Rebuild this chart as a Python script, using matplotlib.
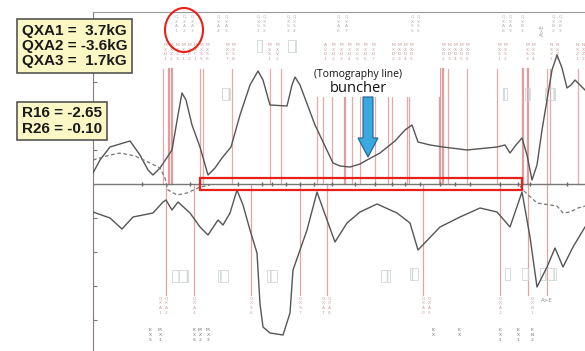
import matplotlib.pyplot as plt
import numpy as np
from matplotlib.patches import Rectangle, Ellipse, FancyArrow

# beam position s [m] and optics functions
s_upper = [0, 0.7, 1.7, 2.7, 3.7, 4.7, 5.5, 6.0, 6.7, 7.9, 8.5, 8.9, 9.3, 9.9, 10.7,
           11.5, 12.2, 12.9, 13.8, 14.7, 15.7, 16.5, 17.0, 17.7, 19.4, 19.9, 20.2, 20.7,
           22.2, 24.0, 24.7, 25.7, 26.7, 27.4, 28.7, 30.2, 31.2, 31.9, 32.5, 33.7, 35.0,
           37.4, 40.4, 41.2, 41.7, 42.3, 42.9, 43.4, 43.9, 44.4, 44.9, 45.4, 45.9, 46.4,
           46.9, 47.4, 47.8, 48.2, 48.7, 49.2]
beta_upper = [1.1, 2.4, 3.7, 4.0, 4.3, 2.9, 1.4, 0.9, 1.6, 3.4, 6.9, 9.1, 8.4, 5.9, 3.7,
              0.9, 1.6, 2.6, 3.7, 6.9, 9.9, 11.3, 10.4, 7.9, 7.8, 9.9, 10.7, 9.9,
              5.9, 2.1, 1.8, 1.7, 2.0, 2.4, 3.1, 4.3, 5.4, 5.9, 4.2, 3.9, 3.7,
              3.4, 3.7, 3.9, 3.1, 3.9, 4.6, 2.9, 0.4, 1.9, 5.4, 8.4, 11.4, 12.9,
              11.6, 9.6, 9.9, 10.4, 9.9, 9.4]

s_lower = [0, 1.7, 2.9, 4.0, 6.0, 7.0, 7.3, 7.9, 8.5, 9.7, 10.7, 11.5, 12.5, 13.0, 13.7,
           14.4, 15.0, 15.7, 16.4, 16.7, 17.0, 17.7, 19.0, 19.7, 20.0, 21.4, 22.4, 23.4,
           24.2, 25.4, 26.7, 28.4, 30.4, 31.7, 32.5, 34.7, 36.7, 38.7, 40.4, 41.7, 42.9,
           43.7, 44.4, 45.4, 46.2, 47.0, 48.0, 49.2]
beta_lower = [-2.8, -3.4, -4.5, -3.3, -2.9, -1.8, -1.6, -2.6, -1.8, -2.9, -4.3, -5.1, -3.6, -4.1, -2.9,
              -0.6, -2.1, -4.6, -6.9, -12.0, -14.3, -14.9, -15.1, -12.9, -8.6, -4.6, -0.8, -3.6,
              -5.8, -3.9, -2.8, -2.0, -2.9, -3.9, -6.6, -4.3, -3.3, -2.4, -2.8, -4.3, -0.8,
              -5.3, -10.3, -8.3, -6.4, -8.3, -6.3, -4.3]

s_disp_a = [0, 1.7, 2.7, 4.2, 5.7, 6.7, 7.2, 7.5, 8.4, 9.4, 10.7, 11.7]
disp_a = [2.4, 2.9, 3.1, 2.8, 2.1, 1.6, 0.6, -0.6, -1.1, -0.9, -0.3, -0.1]
s_disp_b = [42.7, 43.2, 44.4, 45.7, 46.4, 47.0, 47.7, 48.5, 49.2]
disp_b = [-0.2, -0.8, -1.9, -2.1, -2.2, -2.9, -2.8, -2.4, -2.2]

# element positions
upper_elems = [7.0, 10.7, 11.0, 13.9, 17.7, 18.8, 22.4, 23.0, 23.9, 25.9, 26.7, 28.2,
               29.5, 29.9, 31.4, 31.6, 35.5, 37.4, 40.4, 45.4, 45.7, 48.5]
upper_thick = [7.6, 7.9, 25.2, 34.7, 35.0, 43.0, 43.5]
lower_elems = [7.3, 10.1, 15.8, 20.7, 23.4, 33.0, 40.7, 43.5, 45.4]
axis_ticks = [4.9, 9.7, 14.5, 16.9, 17.9, 19.3, 20.7, 22.1, 23.9, 26.2, 28.2, 29.9,
              31.2, 32.7, 34.7, 36.2, 37.7, 40.7, 42.5, 43.7, 47.4]

# beam diagnostics (BPM / profile monitors) drawn as small boxes: (s, width, y)
monitors = [(12.9, 0.8, 9.6), (16.4, 0.5, 14.4), (19.5, 0.8, 14.4), (41.0, 0.4, 9.6),
            (43.2, 0.5, 9.6), (45.2, 1.0, 9.6),
            (7.9, 1.6, -8.6), (12.5, 1.0, -8.6), (17.4, 1.0, -8.6), (28.8, 0.9, -8.6),
            (31.7, 0.8, -8.4), (41.2, 0.5, -8.4), (42.9, 0.6, -8.4), (44.7, 1.6, -8.4)]

top_names = [(8.3, 'QXA1'), (9.1, 'QXA2'), (9.9, 'QXA3'), (12.5, 'QXA4'), (13.3, 'QXA5'),
             (16.5, 'QXS1'), (17.1, 'QXS2'), (19.5, 'QXS3'), (20.1, 'QXS4'),
             (24.5, 'QXA6'), (25.3, 'QXA7'), (31.9, 'QXS5'), (32.5, 'QXS6'),
             (41.0, 'QXA8'), (41.7, 'QXA9'), (42.9, 'QXB1'), (46.0, 'QXB2'), (46.7, 'QXB3')]
mag_names = [(7.2, 'MXD1'), (7.8, 'MXZ2'), (8.4, 'MXZ3'), (9.0, 'MXS1'), (9.6, 'MXP2'),
             (10.2, 'MXC1'), (10.8, 'MXS5'), (11.4, 'MXS6'), (13.4, 'MXE7'), (14.0, 'MXS8'),
             (17.6, 'MXS1'), (18.4, 'MXV2'), (23.2, 'AVD1'), (24.0, 'MXD2'), (24.8, 'MXD3'),
             (25.6, 'MXD4'), (26.4, 'MXC5'), (27.2, 'MXD6'), (28.0, 'MXD7'),
             (30.0, 'MXD2'), (30.6, 'MXD3'), (31.2, 'MXD4'), (31.8, 'MXD5'),
             (35.0, 'MXD2'), (35.6, 'MXD3'), (36.2, 'MXD4'), (36.8, 'MXD5'), (37.4, 'MXD6'),
             (40.6, 'MXS1'), (41.2, 'MXS2'), (43.4, 'MXS3'), (44.0, 'MXS4'),
             (45.8, 'NXZ1'), (46.4, 'NXZ2'), (48.4, 'NXZ1'), (49.0, 'NXZ2')]
bot_names = [(6.7, 'QXA1'), (7.3, 'QXA2'), (10.1, 'QXA4'), (15.8, 'QXS6'),
             (20.7, 'QXS7'), (23.0, 'QXA7'), (23.6, 'QXA8'), (33.0, 'QXA0'), (33.6, 'QXA0'),
             (40.7, 'QXA2'), (43.9, 'QXB1')]
bot_names2 = [(5.7, 'KXS'), (6.7, 'MX1'), (10.1, 'KXS'), (10.7, 'MX2'), (11.5, 'MX3'),
              (34.0, 'KX'), (36.6, 'KX'), (40.7, 'KX1'), (42.5, 'KX1'), (43.9, 'KN2')]

fig = plt.figure(figsize=(5.85, 3.51), dpi=100)
ax = fig.add_axes([93 / 585, 0, 492 / 585, 339 / 351])
ax.set_xlim(0, 49.2)
ax.set_ylim(-16.7, 17.2)

for s in upper_elems:
    ax.plot([s, s], [0, 11.5], color='#e6a8a8', lw=0.9, zorder=1)
for s in upper_thick:
    ax.plot([s, s], [0, 11.5], color='#dc8484', lw=1.6, alpha=0.8, zorder=1)
for s in lower_elems:
    ax.plot([s, s], [0, -11.1], color='#e0a4a4', lw=0.9, zorder=1)

for s, w, y in monitors:
    ax.add_patch(Rectangle((s, y - 1.2), w, 1.2, facecolor='none', edgecolor='#d0d6d6',
                           hatch='||', lw=0.6, zorder=1))

for s, name in top_names:
    ax.text(s, 16.9, '\n'.join(name), fontsize=3.2, color='#b0b0b0', ha='center',
            va='top', linespacing=1.2)
for s, name in mag_names:
    ax.text(s, 14.1, '\n'.join(name), fontsize=3.2, color='#c89a9a', ha='center',
            va='top', linespacing=1.2)
for s, name in bot_names:
    ax.text(s, -11.2, '\n'.join(name), fontsize=3.2, color='#d0a0a0', ha='center',
            va='top', linespacing=1.3)
for s, name in bot_names2:
    ax.text(s, -14.4, '\n'.join(name), fontsize=3.2, color='#707070', ha='center',
            va='top', linespacing=1.3)
ax.text(44.9, 15.4, 'A>E', fontsize=4, color='#9a9a9a', rotation=90, ha='center', va='center')
ax.text(45.4, -11.6, 'A>E', fontsize=4, color='#8a8a8a', ha='center', va='center')

ax.plot([0, 49.2], [0, 0], color='#777777', lw=1.0, zorder=2)
ax.plot(axis_ticks, [0] * len(axis_ticks), ls='none', marker='|', ms=3,
        color='#666666', zorder=2)

ax.plot(s_upper, beta_upper, color='#555555', lw=1.0, zorder=3)
ax.plot(s_lower, beta_lower, color='#555555', lw=1.0, zorder=3)
ax.plot(s_disp_a, disp_a, color='#777777', lw=0.9, ls=(0, (3, 2)), zorder=3)
ax.plot(s_disp_b, disp_b, color='#777777', lw=0.9, ls=(0, (3, 2)), zorder=3)

ax.set_xticks([])
ax.set_yticks([-13.6, -10.2, -6.8, -3.4, 3.4, 6.8, 10.2])
ax.set_yticklabels([])
ax.tick_params(axis='y', direction='in', length=3, color='#777777')
for side in ['right', 'bottom']:
    ax.spines[side].set_visible(False)
ax.spines['left'].set_color('#8a7a7a')
ax.spines['top'].set_color('#999999')

# overlay in pixel units for the annotations
ov = fig.add_axes([0, 0, 1, 1], zorder=5)
ov.set_xlim(0, 585)
ov.set_ylim(351, 0)
ov.axis('off')
ov.patch.set_alpha(0)

ov.add_patch(Rectangle((305, 66), 135, 31, facecolor='white', edgecolor='none'))
ov.text(358, 75, '(Tomography line)', fontsize=7.5, family='Open Sans',
        ha='center', va='center', color='#111111')
ov.text(358, 89, 'buncher', fontsize=10.5, family='Open Sans',
        ha='center', va='center', color='#111111')
ov.add_patch(FancyArrow(368, 97, 0, 60, width=10, head_width=20, head_length=19,
                        length_includes_head=True, facecolor='#3aa9e0',
                        edgecolor='#1f5f8f', lw=0.8))

ov.add_patch(Ellipse((184, 30), 38, 44, fill=False, edgecolor='#e8201a', lw=1.5))
ov.add_patch(Rectangle((200, 178), 322, 12, fill=False, edgecolor='#e8201a', lw=1.6))

box = dict(boxstyle='square,pad=0.3', facecolor='#fbf8c6', edgecolor='#555555', lw=1.2)
ov.text(22, 46, 'QXA1 =  3.7kG\nQXA2 = -3.6kG\nQXA3 =  1.7kG', fontsize=11,
        fontweight='bold', family='Liberation Sans', va='center', ha='left',
        linespacing=1.1, bbox=box, color='#1a1a1a')
ov.text(22, 121, 'R16 = -2.65\nR26 = -0.10', fontsize=11, fontweight='bold',
        family='Liberation Sans', va='center', ha='left', linespacing=1.1,
        bbox=box, color='#1a1a1a')

fig.savefig('out.png', dpi=100)
